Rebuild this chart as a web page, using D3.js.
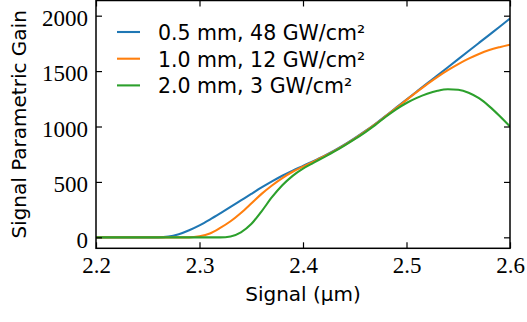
<!DOCTYPE html>
<html>
<head>
<meta charset="utf-8">
<script src="https://cdn.jsdelivr.net/npm/d3@7"></script>
<style>
  body { margin: 0; background: #fff; }
  .axis path, .axis line { stroke: #000; }
  .axis text { font-family: "Liberation Serif", "Times New Roman", "DejaVu Serif", serif !important; font-size: 23px !important; }
</style>
</head>
<body>
<div id="chart"></div>
<script>
// signal wavelength (um), one point every 0.01
const wavelength = d3.range(0, 41).map(i => +(2.2 + i * 0.01).toFixed(2));

// parametric gain for each crystal length / intensity
const gain05mm = [0, 0, 0, 0, 0, 0, 0, 6, 28, 64,
                  108, 160, 216, 274, 333, 392, 450, 505, 556, 602,
                  645, 688, 733, 782, 836, 895, 958, 1025, 1097, 1170,
                  1243, 1316, 1389, 1462, 1535, 1608, 1681, 1754, 1827, 1900,
                  1975];
const gain10mm = [0, 0, 0, 0, 0, 0, 0, 0, 0, 0,
                  10, 35, 85, 145, 220, 305, 392, 468, 535, 592,
                  638, 683, 729, 778, 832, 891, 954, 1021, 1093, 1166,
                  1240, 1312, 1382, 1448, 1508, 1563, 1612, 1655, 1690, 1716,
                  1738];
const gain20mm = [0, 0, 0, 0, 0, 0, 0, 0, 0, 0,
                  0, 0, 0, 8, 45, 120, 235, 362, 470, 555,
                  620, 672, 722, 773, 828, 886, 948, 1015, 1088, 1155,
                  1212, 1258, 1295, 1322, 1336, 1331, 1305, 1255, 1182, 1095,
                  1000];

const seriesNames = ["0.5 mm, 48 GW/cm²", "1.0 mm, 12 GW/cm²", "2.0 mm, 3 GW/cm²"];
const seriesColors = ["#1f77b4", "#ff7f0e", "#2ca02c"];

const xTicks = [2.2, 2.3, 2.4, 2.5, 2.6];
const yTicks = [0, 500, 1000, 1500, 2000];

function lineChart() {
    let margin = {top: 0.5, right: 17, bottom: 73.7, left: 96},
        width = 527,
        height = 322;

    function chart(selector, series) {
        const w = width - margin.left - margin.right,
              h = height - margin.top - margin.bottom;

        const svg = d3.select(selector)
            .append('svg')
            .attr('width', width)
            .attr('height', height)
            .append('g')
            .attr('transform', `translate(${margin.left},${margin.top})`);

        //scales
        const xScale = d3.scaleLinear([2.2, 2.6], [0, w]);
        const yScale = d3.scaleLinear([-99, 2137], [h, 0]);

        //lines
        const line = d3.line()
            .x((d, i) => xScale(wavelength[i]))
            .y(d => yScale(d))
            .curve(d3.curveMonotoneX);

        svg.append('defs').append('clipPath').attr('id', 'clip')
            .append('rect').attr('width', w).attr('height', h);

        svg.append('g')
            .attr('clip-path', 'url(#clip)')
            .selectAll('path')
            .data(series)
            .enter()
            .append('path')
            .attr('d', d => line(d.values))
            .attr('fill', 'none')
            .attr('stroke', d => d.color)
            .attr('stroke-width', 2.1);

        //axes, ticks pointing inward on all four sides
        const tick = -6;
        const xAxis = svg.append('g')
            .attr('class', 'axis')
            .attr('transform', `translate(0,${h})`)
            .call(d3.axisBottom(xScale).tickValues(xTicks).tickSizeInner(tick).tickSizeOuter(0).tickFormat(d3.format('.1f')));
        xAxis.selectAll('text').attr('y', 0).attr('dy', '1.08em');

        const yAxis = svg.append('g')
            .attr('class', 'axis')
            .call(d3.axisLeft(yScale).tickValues(yTicks).tickSizeInner(tick).tickSizeOuter(0).tickFormat(d3.format('d')));
        yAxis.selectAll('text').attr('x', -8).attr('dy', '0.42em');

        svg.append('g')
            .attr('class', 'axis')
            .call(d3.axisTop(xScale).tickValues(xTicks).tickSizeInner(tick).tickSizeOuter(0).tickFormat(''));
        svg.append('g')
            .attr('class', 'axis')
            .attr('transform', `translate(${w},0)`)
            .call(d3.axisRight(yScale).tickValues(yTicks).tickSizeInner(tick).tickSizeOuter(0).tickFormat(''));

        svg.selectAll('.axis .tick line').attr('stroke-width', 1.2);
        svg.selectAll('.axis .domain').remove();

        //frame
        svg.append('rect')
            .attr('width', w)
            .attr('height', h)
            .attr('fill', 'none')
            .attr('stroke', '#000')
            .attr('stroke-width', 1.5);

        //axis titles
        const titleFont = '"DejaVu Sans", sans-serif';
        svg.append('text')
            .attr('font-family', titleFont)
            .attr('font-size', 20)
            .attr('x', w / 2)
            .attr('y', h + 53)
            .attr('text-anchor', 'middle')
            .text('Signal (μm)');

        svg.append('text')
            .attr('font-family', titleFont)
            .attr('font-size', 20)
            .attr('transform', `translate(${-margin.left + 26},${h / 2}) rotate(-90)`)
            .attr('text-anchor', 'middle')
            .text('Signal Parametric Gain');

        //legend
        const legend = svg.append('g')
            .selectAll('g')
            .data(series)
            .enter()
            .append('g')
            .attr('transform', (d, i) => `translate(21,${39.5 + i * 26.7})`);
        legend.append('line')
            .attr('x1', 0).attr('x2', 23)
            .attr('y1', -8).attr('y2', -8)
            .attr('stroke', d => d.color)
            .attr('stroke-width', 2.1);
        legend.append('text')
            .attr('font-family', titleFont)
            .attr('font-size', 20.5)
            .attr('x', 41)
            .text(d => d.name);
    }

    chart.margin = function(_) {
        if (!arguments.length) return margin;
        margin = _;
        return chart;
    };

    return chart;
}

const series = [gain05mm, gain10mm, gain20mm].map((values, i) => ({
    name: seriesNames[i],
    color: seriesColors[i],
    values: values
}));

lineChart()('#chart', series);
</script>
</body>
</html>
